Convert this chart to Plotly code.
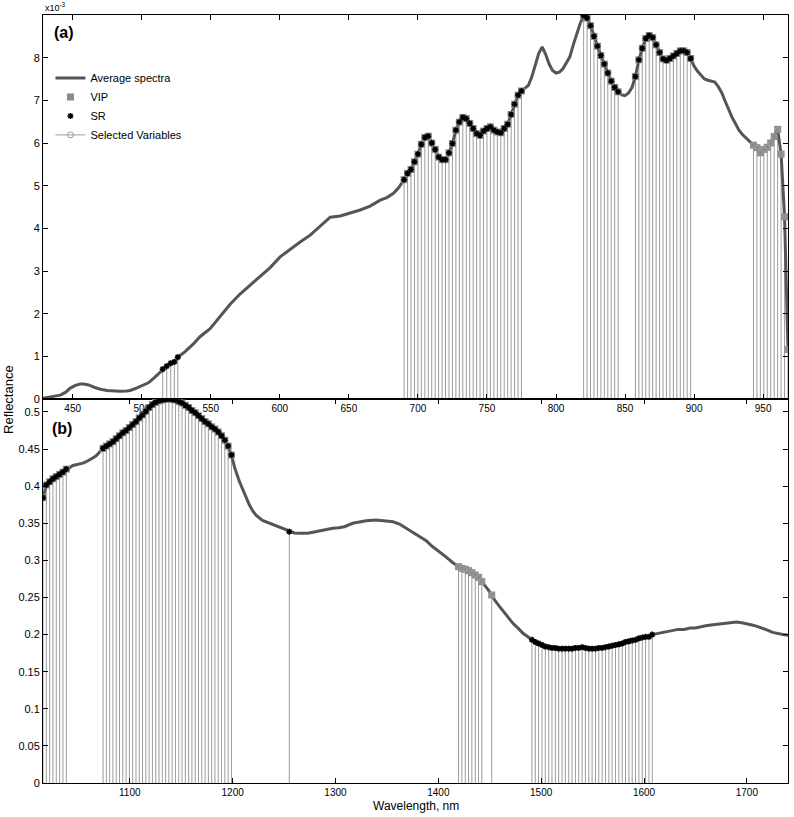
import plotly.graph_objects as go

# ---- panel (a): visible range, reflectance in units of 1e-3 ----
wl_a = [428.5, 433, 437, 441, 445, 448, 452, 455.4, 458, 461.5, 466, 470, 475, 479.4, 484, 489,
        491.5, 495, 498.8, 501.2, 504.8, 508.4, 511.5, 515.2, 518.1, 521.0, 523.6, 526.1, 531.4,
        537.4, 542.2, 549.5, 556.7, 564, 571.2, 578.5, 585.7, 593, 600.2, 607.5, 614.7, 622,
        629.2, 636.5, 643.7, 651, 658.2, 665.4, 672.7, 677.5, 682.3, 686,
        690, 692.5, 695, 697.5, 700, 702.5, 705, 707.5, 710, 712.5, 715, 717.5, 720, 722.5, 725,
        727.5, 730, 732.5, 735, 737.5, 740, 742.5, 745, 747.5, 750, 752.5, 755, 757.5, 760,
        762.5, 765, 767.5, 770, 772.5, 775,
        777.5, 780, 782.5, 785, 787.5, 790, 792.5, 795, 797.5, 800, 802.5, 805, 807.5, 810,
        812.5, 815, 817.5,
        820, 822.5, 825, 827.5, 830, 832.5, 835, 837.5, 840, 842.5, 845,
        847.5, 850, 852.5, 855,
        857.5, 860, 862.5, 865, 867.5, 870, 872.5, 875, 877.5, 880, 882.5, 885, 887.5, 890,
        892.5, 895, 897.5,
        900, 902.5, 905, 907.5, 910, 912.5, 915, 917.5, 920, 922.5, 925, 927.5, 930, 932.5,
        935, 937.5, 940,
        943, 945.5, 948, 950.5, 953, 955.5, 958, 960.5, 963, 965.5, 968]
refl_a = [0.02, 0.04, 0.06, 0.09, 0.16, 0.25, 0.32, 0.35, 0.35, 0.33, 0.27, 0.23, 0.20, 0.19, 0.18, 0.19,
          0.20, 0.24, 0.29, 0.33, 0.38, 0.48, 0.58, 0.70, 0.77, 0.84, 0.87, 0.98, 1.11,
          1.29, 1.46, 1.65, 1.93, 2.22, 2.46, 2.67, 2.88, 3.08, 3.33, 3.51, 3.68, 3.84,
          4.04, 4.26, 4.29, 4.36, 4.43, 4.52, 4.66, 4.72, 4.82, 4.95,
          5.14, 5.29, 5.38, 5.56, 5.74, 5.97, 6.13, 6.16, 6.00, 5.85, 5.67, 5.61, 5.61, 5.77, 5.99,
          6.30, 6.49, 6.60, 6.57, 6.46, 6.34, 6.22, 6.18, 6.28, 6.34, 6.38, 6.30, 6.26, 6.24,
          6.34, 6.44, 6.67, 6.91, 7.12, 7.22,
          7.28, 7.35, 7.55, 7.80, 8.10, 8.25, 8.08, 7.85, 7.70, 7.64, 7.66, 7.74, 7.88, 8.02,
          8.30, 8.55, 8.80,
          8.99, 8.93, 8.75, 8.50, 8.27, 8.05, 7.85, 7.64, 7.45, 7.30, 7.20,
          7.13, 7.11, 7.17, 7.30,
          7.56, 7.95, 8.22, 8.45, 8.52, 8.47, 8.30, 8.12, 7.97, 7.94, 7.98, 8.04, 8.10, 8.16,
          8.16, 8.12, 7.98,
          7.80, 7.68, 7.58, 7.50, 7.47, 7.45, 7.43, 7.32, 7.18, 6.98, 6.78, 6.60, 6.45, 6.30,
          6.20, 6.12, 6.03,
          5.95, 5.89, 5.77, 5.85, 5.90, 6.00, 6.15, 6.32, 5.74, 4.27, 1.16]
sr_bands_a = [(515, 527), (690, 775), (820, 845), (857, 898)]
vip_bands_a = [(690, 775), (820, 845), (857, 898), (942, 968)]

# ---- panel (b): NIR range ----
wl_b = [1015.6, 1018.8, 1022.1, 1025.3, 1028.5, 1031.8, 1035.0, 1038.3,
        1041.5, 1044.7, 1048.0, 1051.2, 1054.4, 1057.6, 1060.8, 1064.0, 1067.3, 1070.5,
        1074.0, 1077.2, 1080.4, 1083.6, 1086.8, 1090.0, 1093.2, 1096.4, 1099.6, 1102.8,
        1106.0, 1109.2, 1112.4, 1115.6, 1118.8, 1122.0, 1125.2, 1128.4, 1131.6, 1134.8,
        1138.0, 1141.2, 1144.4, 1147.6, 1150.8, 1154.0, 1157.2, 1160.4, 1163.6, 1166.8,
        1170.0, 1173.2, 1176.4, 1179.6, 1182.8, 1186.0, 1189.2, 1192.4, 1195.6, 1198.8,
        1202, 1206.4, 1210, 1213, 1216.2, 1219.4, 1222.7, 1229, 1236, 1243.7, 1250, 1255.1,
        1260, 1264.8, 1272.9, 1278, 1284.3, 1290, 1297.3, 1303, 1308.7, 1316.7, 1323, 1329.8,
        1339.5, 1349.3, 1356, 1362.2, 1368, 1375.2, 1381, 1388.2, 1394, 1401.2, 1408, 1414.1,
        1419.7, 1422.9, 1426.2, 1429.4, 1432.6, 1435.9, 1439.1, 1442.3, 1445.5, 1448.7, 1451.9,
        1455, 1459.6, 1466, 1472.5, 1478, 1482.3, 1487,
        1491.0, 1494.3, 1497.5, 1500.8, 1504.0, 1507.3, 1510.5, 1513.8, 1517.0, 1520.3,
        1523.5, 1526.8, 1530.0, 1533.3, 1536.5, 1539.8, 1543.0, 1546.3, 1549.5, 1552.8,
        1556.0, 1559.3, 1562.5, 1565.8, 1569.0, 1572.3, 1575.5, 1578.8, 1582.0, 1585.3,
        1588.5, 1591.8, 1595.0, 1598.3, 1601.5, 1604.8, 1608.0,
        1612, 1617, 1621.9, 1627, 1633.2, 1639, 1645, 1650, 1655, 1660, 1665, 1670, 1675,
        1680, 1685, 1690, 1695, 1700, 1705, 1710, 1715, 1720, 1725, 1730, 1735, 1740]
refl_b = [0.3845, 0.4016, 0.406, 0.410, 0.413, 0.416, 0.419, 0.423,
          0.426, 0.428, 0.429, 0.4295, 0.431, 0.433, 0.435, 0.438, 0.441, 0.446,
          0.451, 0.454, 0.457, 0.460, 0.464, 0.468, 0.472, 0.475, 0.479, 0.483,
          0.487, 0.492, 0.496, 0.501, 0.506, 0.510, 0.513, 0.515, 0.516, 0.517,
          0.5175, 0.517, 0.516, 0.514, 0.512, 0.509, 0.506, 0.502, 0.499, 0.495,
          0.491, 0.487, 0.484, 0.480, 0.477, 0.473, 0.468, 0.462, 0.454, 0.442,
          0.425, 0.407, 0.395, 0.386, 0.375, 0.367, 0.361, 0.354, 0.350, 0.3454, 0.342, 0.3387,
          0.337, 0.3365, 0.3365, 0.338, 0.340, 0.341, 0.3432, 0.344, 0.3454, 0.350, 0.352, 0.3535,
          0.3544, 0.3535, 0.352, 0.349, 0.344, 0.3387, 0.333, 0.3265, 0.319, 0.3117, 0.304, 0.2969,
          0.2915, 0.2893, 0.288, 0.2861, 0.2834, 0.2803, 0.2772, 0.2713, 0.266, 0.260, 0.2534,
          0.246, 0.2376, 0.226, 0.2152, 0.208, 0.2017, 0.197,
          0.193, 0.190, 0.188, 0.186, 0.184, 0.183, 0.182, 0.182, 0.181, 0.181,
          0.181, 0.181, 0.181, 0.182, 0.182, 0.183, 0.182, 0.181, 0.181, 0.181,
          0.182, 0.182, 0.183, 0.184, 0.185, 0.186, 0.187, 0.188, 0.190, 0.191,
          0.192, 0.193, 0.195, 0.196, 0.197, 0.197, 0.200,
          0.201, 0.203, 0.204, 0.205, 0.207, 0.207, 0.209, 0.209, 0.211, 0.212, 0.213, 0.214, 0.215,
          0.215, 0.216, 0.217, 0.216, 0.215, 0.213, 0.211, 0.209, 0.206, 0.203, 0.201, 0.200, 0.199]
sr_bands_b = [(1015, 1039), (1073, 1199), (1255, 1256), (1490, 1609)]
vip_bands_b = [(1015, 1039), (1073, 1199), (1419, 1443), (1451, 1452)]

LINE = "#555555"
VIP_C = "#8a8a8a"
STEM_C = "#9c9c9c"


def pick(wl, refl, bands):
    xs, ys = [], []
    for w, r in zip(wl, refl):
        if any(lo <= w <= hi for lo, hi in bands):
            xs.append(w)
            ys.append(r)
    return xs, ys


def add_panel(fig, wl, refl, sr_bands, vip_bands, xa, ya, legend):
    sr_x, sr_y = pick(wl, refl, sr_bands)
    vip_x, vip_y = pick(wl, refl, vip_bands)
    sel_x, sel_y = pick(wl, refl, sr_bands + vip_bands)
    stem_x, stem_y = [], []
    for x, y in zip(sel_x, sel_y):
        stem_x += [x, x, None]
        stem_y += [0, y, None]

    fig.add_trace(go.Scatter(x=stem_x, y=stem_y, mode="lines", line=dict(color=STEM_C, width=1),
                             showlegend=False, hoverinfo="skip", xaxis=xa, yaxis=ya))
    fig.add_trace(go.Scatter(x=wl, y=refl, mode="lines", name="Average spectra",
                             line=dict(color=LINE, width=3), showlegend=legend, legendrank=1,
                             xaxis=xa, yaxis=ya))
    fig.add_trace(go.Scatter(x=vip_x, y=vip_y, mode="markers", name="VIP",
                             marker=dict(symbol="square", size=7, color=VIP_C),
                             showlegend=legend, legendrank=2, xaxis=xa, yaxis=ya))
    fig.add_trace(go.Scatter(x=sel_x, y=sel_y, mode="markers", showlegend=False,
                             marker=dict(symbol="circle-open", size=5, color=STEM_C, line=dict(width=1)),
                             xaxis=xa, yaxis=ya))
    fig.add_trace(go.Scatter(x=sr_x, y=sr_y, mode="markers", name="SR",
                             marker=dict(symbol="asterisk-open", size=5, color="black",
                                         line=dict(width=1.5, color="black")),
                             showlegend=legend, legendrank=3, xaxis=xa, yaxis=ya))
    if legend:
        fig.add_trace(go.Scatter(x=[None], y=[None], mode="lines+markers", name="Selected Variables",
                                 line=dict(color=STEM_C, width=1),
                                 marker=dict(symbol="circle-open", size=6, color=STEM_C),
                                 legendrank=4, xaxis=xa, yaxis=ya))


fig = go.Figure()
add_panel(fig, wl_a, refl_a, sr_bands_a, vip_bands_a, "x", "y", True)
add_panel(fig, wl_b, refl_b, sr_bands_b, vip_bands_b, "x2", "y2", False)

axis_style = dict(showline=True, linecolor="black", linewidth=1, mirror="ticks", ticks="inside",
                  ticklen=5, tickcolor="black", showgrid=False, zeroline=False)

fig.update_layout(
    width=794, height=817,
    margin=dict(l=43, r=6, t=15, b=34),
    paper_bgcolor="white", plot_bgcolor="white",
    font=dict(family="Liberation Sans, Arial, sans-serif", color="black"),
    xaxis=dict(domain=[0, 1], anchor="y", range=[428.5, 968],
               tickvals=[450, 500, 550, 600, 650, 700, 750, 800, 850, 900, 950],
               tickfont=dict(size=10), **axis_style),
    yaxis=dict(domain=[0.5, 1], anchor="x", range=[0, 9], tickvals=list(range(9)),
               tickfont=dict(size=11), **axis_style),
    xaxis2=dict(domain=[0, 1], anchor="y2", range=[1015.6, 1740],
                tickvals=[1100, 1200, 1300, 1400, 1500, 1600, 1700],
                tickfont=dict(size=10), **axis_style),
    yaxis2=dict(domain=[0, 0.5], anchor="x2", range=[0, 0.5175], dtick=0.05, tick0=0,
                tickfont=dict(size=11), **axis_style),
    legend=dict(x=0.01, y=0.937, xanchor="left", yanchor="top", bgcolor="rgba(0,0,0,0)",
                font=dict(size=11), itemwidth=30),
    annotations=[
        dict(text="x10<sup>-3</sup>", xref="paper", yref="paper", x=0, y=1, xanchor="left",
             yanchor="bottom", showarrow=False, font=dict(size=9)),
        dict(text="<b>(a)</b>", xref="paper", yref="paper", x=0.012, y=0.977, xanchor="left",
             yanchor="middle", showarrow=False, font=dict(size=16)),
        dict(text="<b>(b)</b>", xref="paper", yref="paper", x=0.01, y=0.462, xanchor="left",
             yanchor="middle", showarrow=False, font=dict(size=16)),
        dict(text="Reflectance", xref="paper", yref="paper", x=-0.047, y=0.5, xanchor="center",
             yanchor="middle", textangle=-90, showarrow=False, font=dict(size=13)),
        dict(text="Wavelength, nm", xref="paper", yref="paper", x=0.5, y=-0.03, xanchor="center",
             yanchor="middle", showarrow=False, font=dict(size=12)),
    ],
)

# the page's default 8px body margin would shift the figure; remove it
fig.write_html("out.html", config={"displayModeBar": False},
               post_script="document.body.style.margin='0';")
